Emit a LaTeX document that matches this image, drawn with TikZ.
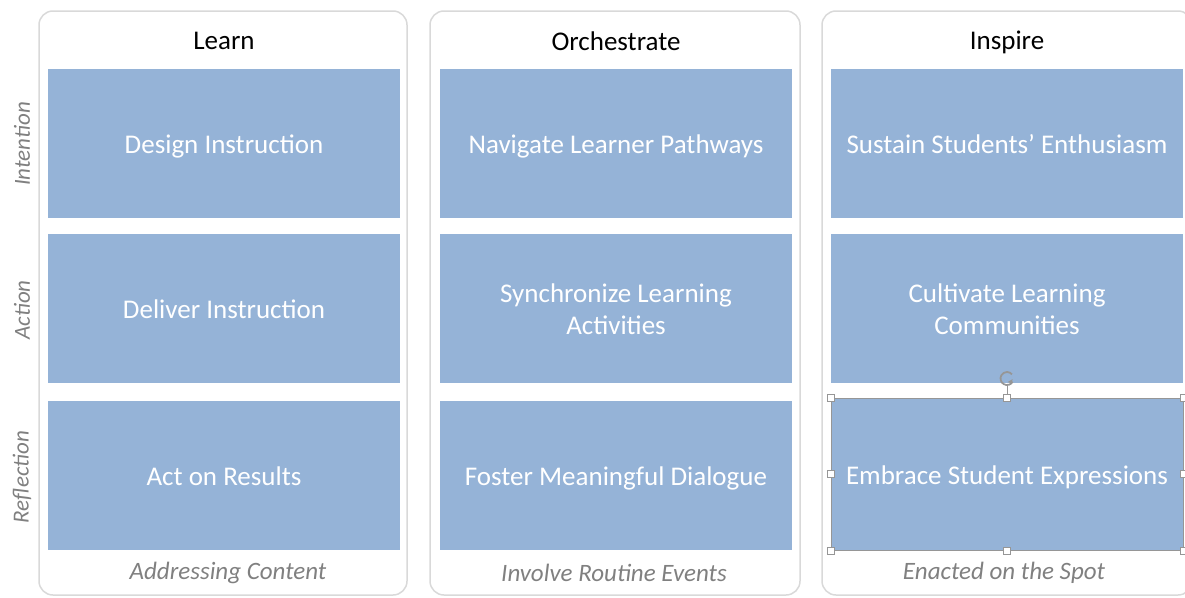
\documentclass[tikz,border=0pt]{standalone}
\usepackage{fontspec}
\setmainfont{Carlito}
\definecolor{cellblue}{RGB}{149,179,215}
\definecolor{framegray}{RGB}{217,217,217}
\definecolor{labelgray}{RGB}{128,128,128}
\definecolor{handlegray}{RGB}{150,150,150}
\tikzset{
  colframe/.style={draw=framegray, line width=1.5pt, rounded corners=14pt},
  cellbox/.style={fill=cellblue, minimum width=352pt, minimum height=149pt,
    inner sep=0pt, text height=24pt, text depth=3pt, text=white, align=center,
    font=\fontsize{27}{32}\selectfont},
  twoline/.style={text height=56pt},
  coltitle/.style={font=\fontsize{27}{32}\selectfont},
  rowlabel/.style={rotate=90, text=labelgray, font=\fontsize{23}{27}\selectfont\itshape},
  colcaption/.style={text=labelgray, font=\fontsize{25}{28}\selectfont\itshape},
  handle/.style={draw=handlegray, fill=white, line width=0.8pt}
}
\begin{document}
\begin{tikzpicture}[x=1pt,y=-1pt]
\useasboundingbox (0,0) rectangle (1185,597);
\clip (0,0) rectangle (1185,597);
% column frames
\draw[colframe] (39,11) rectangle (407,595);
\draw[colframe] (430,11) rectangle (800,595);
\draw[colframe] (822,11) rectangle (1192,595);
% titles
\node[coltitle] (learn) at (224,41) {Learn};
\node[coltitle] (orch) at (616,41) {Orchestrate};
\node[coltitle] (insp) at (1007,42) {Inspire};
% row labels
\node[rowlabel] (intention) at (22,144) {Intention};
\node[rowlabel] (action) at (22,310) {Action};
\node[rowlabel] (reflection) at (22,477) {Reflection};
% first column
\node[cellbox] (learn1) at (224,143) {Design Instruction};
\node[cellbox] (learn2) at (224,308) {Deliver Instruction};
\node[cellbox] (learn3) at (224,475) {Act on Results};
% second column
\node[cellbox] (orch1) at (616,143) {Navigate Learner Pathways};
\node[cellbox, twoline] (orch2) at (616,308) {Synchronize Learning\\Activities};
\node[cellbox] (orch3) at (616,475) {Foster Meaningful Dialogue};
% third column
\node[cellbox] (insp1) at (1007,143) {Sustain Students’ Enthusiasm};
\node[cellbox, twoline] (insp2) at (1007,308) {Cultivate Learning\\Communities};
\node[cellbox, draw=handlegray, line width=1pt, minimum height=152pt] (insp3) at (1007,474) {Embrace Student Expressions};
% captions
\node[colcaption] (learncap) at (228,573) {Addressing Content};
\node[colcaption] (orchcap) at (614,573) {Involve Routine Events};
\node[colcaption] (inspcap) at (1004,573) {Enacted on the Spot};
% selection handles
\draw[handlegray, line width=0.8pt] (insp3.north) -- ++(0,-12) coordinate (rot);
\draw[handlegray, line width=1.8pt] ([shift={(0,-7)}]rot) ++(30:6.5) arc (30:320:6.5);
\fill[handlegray] ([shift={(0,-7)}]rot) ++(45:6.5) -- ++(-4,-1) -- ++(5,-3) -- cycle;
\foreach \a in {north west,north,north east,west,east,south west,south,south east}
  \draw[handle] ([shift={(-3.5,-3.5)}]insp3.\a) rectangle ++(7,7);
\end{tikzpicture}
\end{document}
